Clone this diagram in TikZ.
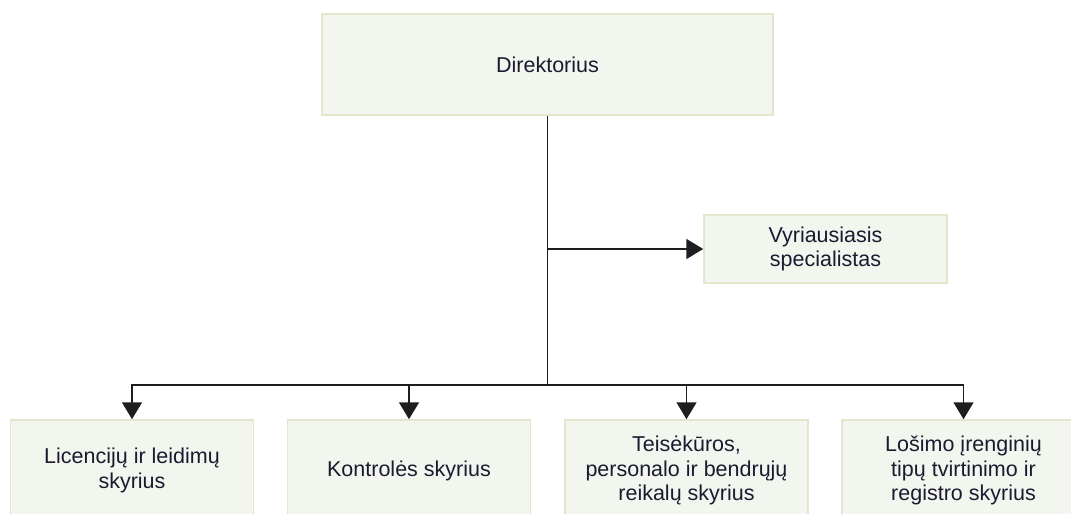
\documentclass[tikz,border=0pt]{standalone}
\usepackage{fontspec}
\setmainfont{Liberation Sans}
\usetikzlibrary{arrows.meta}
\definecolor{boxfill}{RGB}{243,246,238}
\definecolor{boxline}{RGB}{226,230,204}
\definecolor{boxtext}{RGB}{28,26,48}
\definecolor{wire}{RGB}{30,30,30}

\begin{document}
\begin{tikzpicture}[x=1pt,y=-1pt]
  \tikzstyle{unit}  = [rectangle,draw=boxline,fill=boxfill,line width=1.5pt,
                       text=boxtext,align=center,inner sep=0pt,
                       font=\fontsize{21.5}{24.5}\selectfont]
  \tikzstyle{head}  = [unit,minimum width=451pt,minimum height=101pt]
  \tikzstyle{staff} = [unit,minimum width=243pt,minimum height=68pt]
  \tikzstyle{dept}  = [unit,minimum width=243pt,minimum height=101pt]
  \tikzstyle{link}  = [draw=wire,line width=1.6pt,-{Triangle[width=20pt,length=17pt]}]
  \tikzstyle{wireonly} = [draw=wire,line width=1.6pt]
  \clip (0,0) rectangle (1071,514);
  % top and staff
  \path (547.5, 64.5) node[head](dir) {Direktorius};
  \path (825.5,249.0) node[staff](spec) {Vyriausiasis\\specialistas};
  % departments
  \path (132.0,470.5) node[dept](lic)  {Licencijų ir leidimų\\skyrius};
  \path (409.0,470.5) node[dept](kon)  {Kontrolės skyrius};
  \path (686.5,470.5) node[dept](teis) {Teisėkūros,\\personalo ir bendrųjų\\reikalų skyrius};
  \path (963.5,470.5) node[dept](los)  {Lošimo įrenginių\\tipų tvirtinimo ir\\registro skyrius};
  \coordinate (jspec) at (547.5,249);
  \coordinate (bus)   at (547.5,385);
  \draw[wireonly] (dir) -- (bus);
  \draw[link] (jspec) -- (spec);
  \draw[link] (bus) -| (lic);
  \draw[link] (bus) -| (kon);
  \draw[link] (bus) -| (teis);
  \draw[link] (bus) -| (los);
\end{tikzpicture}
\end{document}
